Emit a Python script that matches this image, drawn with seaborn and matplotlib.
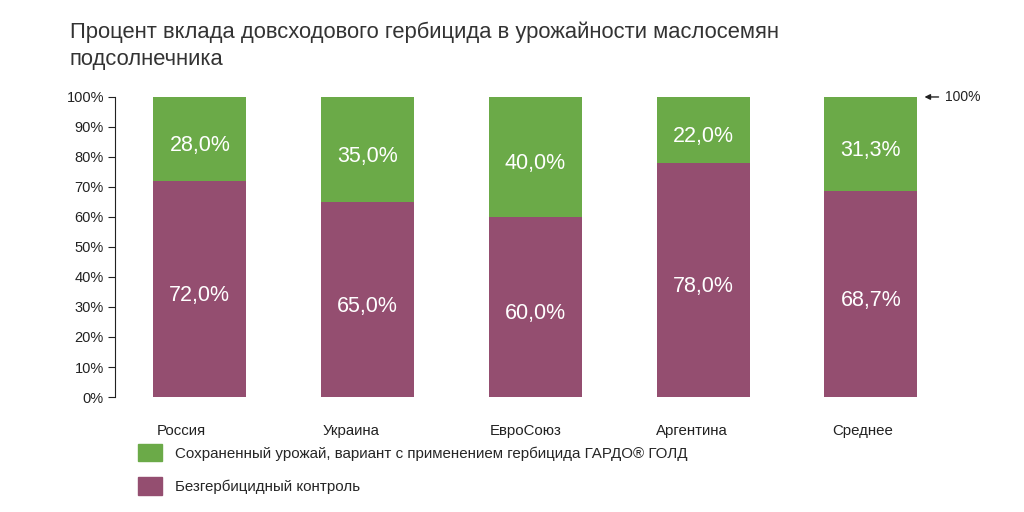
import pandas as pd
import matplotlib.pyplot as plt
import seaborn as sns
from matplotlib.patches import Patch

countries = ['Россия', 'Украина', 'ЕвроСоюз', 'Аргентина', 'Среднее']
control = [72.0, 65.0, 60.0, 78.0, 68.7]
saved = [28.0, 35.0, 40.0, 22.0, 31.3]
total = [c + s for c, s in zip(control, saved)]

green = '#6BAA48'
purple = '#944E70'

df = pd.DataFrame({'country': countries, 'control': control,
                   'saved': saved, 'total': total})

sns.set_style('white')
plt.rcParams['font.family'] = ['Liberation Sans', 'DejaVu Sans']

fig = plt.figure(figsize=(10.24, 5.12), dpi=100)
ax = fig.add_axes([0.1123, 0.2246, 0.82, 0.586])

sns.barplot(data=df, x='country', y='total', color=green, width=0.555,
            saturation=1, linewidth=0, ax=ax)
sns.barplot(data=df, x='country', y='control', color=purple, width=0.555,
            saturation=1, linewidth=0, ax=ax)

# value labels inside segments (sit a little below the middle)
def fmt(v):
    return f'{v:.1f}%'.replace('.', ',')

for i in range(len(countries)):
    ax.annotate(fmt(saved[i]), (i, control[i] + saved[i] / 2), xytext=(0, -5),
                textcoords='offset points', ha='center', va='center',
                color='white', fontsize=15.5)
    ax.annotate(fmt(control[i]), (i, control[i] / 2), xytext=(0, -5),
                textcoords='offset points', ha='center', va='center',
                color='white', fontsize=15.5)

ax.set_xlim(-0.506, 4.5)
ax.set_ylim(0, 100)
ax.set_yticks(range(0, 101, 10))
ax.set_yticklabels([f'{v}%' for v in range(0, 101, 10)])
ax.set_xticks([i - d for i, d in enumerate([0.11, 0.10, 0.06, 0.065, 0.05])])
ax.set_xticklabels(countries)
ax.set_xlabel('')
ax.set_ylabel('')
for s in ['top', 'right', 'bottom']:
    ax.spines[s].set_visible(False)
ax.spines['left'].set_color('#222222')
ax.tick_params(axis='y', left=True, length=5, color='#222222', labelsize=10.5,
               labelcolor='#222222', pad=3)
ax.tick_params(axis='x', bottom=False, labelsize=10.8, labelcolor='#222222',
               pad=16)

# 100% marker
ax.annotate('100%', xy=(4.32, 100), xytext=(4.44, 100), xycoords='data',
            textcoords='data', ha='left', va='center', fontsize=10,
            color='#222222', annotation_clip=False,
            arrowprops=dict(arrowstyle='-|>', color='#222222', lw=1,
                            mutation_scale=8, shrinkA=2, shrinkB=0))

fig.text(0.068, 0.937, 'Процент вклада довсходового гербицида в урожайности маслосемян',
         fontsize=15.8, color='#333333', va='center')
fig.text(0.068, 0.883, 'подсолнечника', fontsize=15.8, color='#333333', va='center')

handles = [Patch(color=green, label='Сохраненный урожай, вариант с применением гербицида ГАРДО® ГОЛД'),
           Patch(color=purple, label='Безгербицидный контроль')]
fig.legend(handles=handles, loc='upper left', bbox_to_anchor=(0.129, 0.145),
           frameon=False, fontsize=10.9, handlelength=1.6, handleheight=1.4,
           labelspacing=1.05, handletextpad=0.85, borderaxespad=0)

fig.savefig('out.png', dpi=100)
